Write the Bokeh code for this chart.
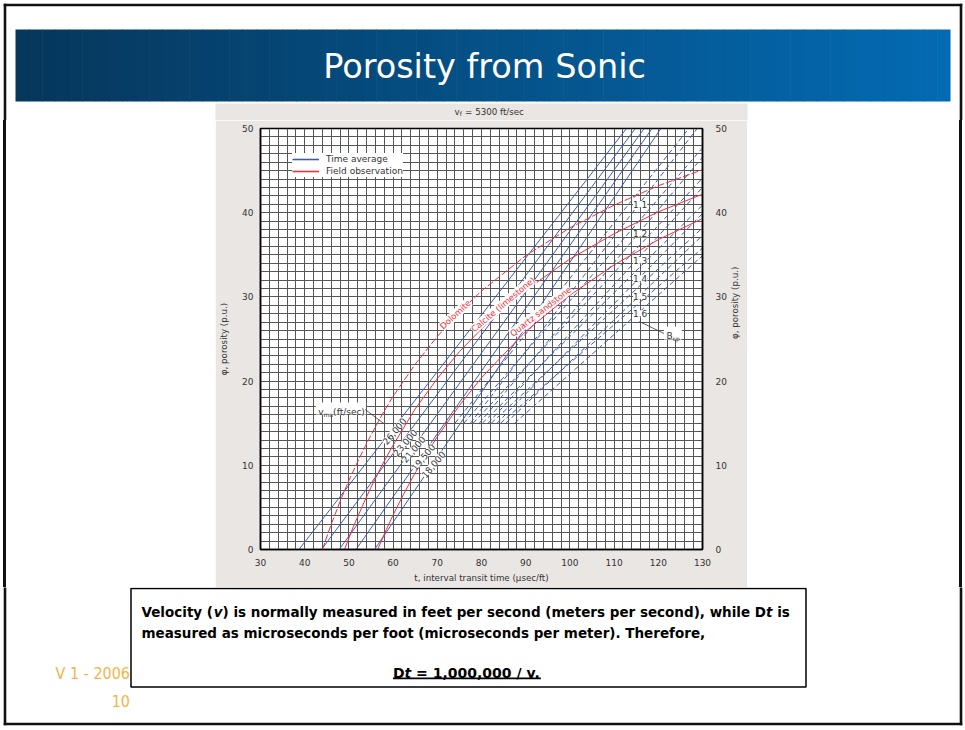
import math
from bokeh.plotting import figure
from bokeh.layouts import column, row
from bokeh.models import (Range1d, LinearAxis, FixedTicker, Label, BoxAnnotation,
                          Arrow, Legend, LegendItem, ColumnDataSource, Spacer)
from bokeh.embed import file_html
from bokeh.resources import INLINE

# ---------------- values ----------------
x_tick_values = [30, 40, 50, 60, 70, 80, 90, 100, 110, 120, 130]
y_tick_values = [0, 10, 20, 30, 40, 50]

# time-average lines (solid blue): transit time at phi = 0 and at phi = 50
vma_labels = ["26,000", "23,000", "21,000", "19,500", "18,000"]
ta_dt_phi0 = [38.7, 43.8, 47.8, 51.6, 55.8]
ta_dt_phi50 = [112.8, 114.8, 116.8, 118.6, 120.6]

# compaction-corrected lines (dashed blue), Bcp = 1.1 ... 1.6
bcp_labels = ["1.1", "1.2", "1.3", "1.4", "1.5", "1.6"]
bcp_phi_start = [15, 15, 15, 15, 15, 15]
bcp18_dt_start = [77.5, 79.5, 81.5, 83.5, 85.5, 87.5]
bcp18_dt_end = [128.8, 130, 130, 130, 130, 130]
bcp18_phi_end = [50, 46.6, 43.0, 39.9, 37.3, 34.9]
bcp195_dt_start = [74.0, 76.0, 78.1, 80.2, 82.2, 84.3]
bcp195_dt_end = [126.9, 130, 130, 130, 130, 130]
bcp195_phi_end = [50, 47.7, 44.1, 40.9, 38.2, 35.8]

# field observation curves (red)
dolomite_dt = [44, 46, 48, 50, 52.5, 55, 57.5, 60, 65, 70, 75, 80, 90, 100, 110, 120, 130]
dolomite_phi = [0, 3.0, 5.7, 8.2, 11.0, 13.6, 16.0, 18.2, 22.0, 25.3, 28.2, 30.7, 34.9, 38.2, 40.9, 43.2, 45.1]
calcite_dt = [49, 51, 53, 55, 57.5, 60, 65, 70, 75, 80, 90, 100, 110, 120, 130]
calcite_phi = [0, 2.7, 5.1, 7.4, 10.0, 12.4, 16.7, 20.3, 23.5, 26.2, 30.8, 34.5, 37.5, 40.1, 42.2]
sandstone_dt = [56.5, 58.5, 60, 62.5, 65, 67.5, 70, 75, 80, 90, 100, 110, 120, 130]
sandstone_phi = [0, 2.4, 4.1, 6.7, 9.1, 11.3, 13.4, 17.1, 20.4, 25.9, 30.2, 33.8, 36.8, 39.3]

# ---------------- layout / style constants ----------------
PAGE_W, PAGE_H = 965, 730
FONT = "DejaVu Sans"
GRAY_BG = "#e9e6e3"
BLUE = "#3a5cb2"
RED = "#ef2f3c"
TXT = "#333333"
ORANGE = "#f5b347"
FRAME_C = "#111111"

vma_label_xy = [(60.3, 14.05), (62.7, 12.7), (64.6, 11.9), (66.8, 10.96), (69.1, 10.1)]
bcp_label_x = 115.9
bcp_label_y = [40.97, 37.49, 34.32, 32.15, 30.08, 27.99]


def X(px):  # page pixel -> chart data x
    return 30 + (px - 260) / 4.48


def Y(py):  # page pixel -> chart data y
    return (549 - py) / 8.42


def deco(x0, y0, w, h):
    """A plain panel whose data coordinates are page pixels (y downward)."""
    f = figure(width=w, height=h, x_range=Range1d(x0, x0 + w), y_range=Range1d(y0 + h, y0),
               x_axis_type=None, y_axis_type=None, min_border=0, toolbar_location=None,
               output_backend="svg", outline_line_color=None,
               background_fill_color="white", border_fill_color="white")
    f.add_layout(BoxAnnotation(left=215, right=747, top=103, bottom=587, fill_color=GRAY_BG,
                               fill_alpha=1, line_color=None, level="underlay"))
    for l, r, t, b in [(3.2, 961.8, 3.2, 5.8), (3.2, 961.8, 722.2, 724.8),
                       (3.2, 5.8, 3.2, 724.8), (959.2, 961.8, 3.2, 724.8)]:
        f.add_layout(BoxAnnotation(left=l, right=r, top=t, bottom=b, fill_color=FRAME_C,
                                   fill_alpha=1, line_color=None, level="overlay"))
    return f


def side(width, bar_from, bar_to):
    grad = (f"linear-gradient(to right, #ffffff 0px, #ffffff {bar_from}px, {FRAME_C} {bar_from}px, "
            f"{FRAME_C} {bar_to}px, #ffffff {bar_to}px, #ffffff 100%)")
    return Spacer(width=width, height=467, margin=0, styles={"background": grad})


# ---------------- top panel: banner ----------------
top = deco(0, 0, PAGE_W, 120)
n = 70
c1, c2 = (6, 55, 92), (4, 106, 178)
bl, br = 15, 950
step = (br - bl) / n
lefts = [bl + i * step for i in range(n)]
rights = [min(br, bl + (i + 1) * step + 0.6) for i in range(n)]
cols = ["#%02x%02x%02x" % tuple(int(round(a + (b - a) * i / (n - 1))) for a, b in zip(c1, c2))
        for i in range(n)]
top.quad(left=lefts, right=rights, top=[29] * n, bottom=[101] * n, fill_color=cols, line_color=None)
top.add_layout(Label(x=484, y=66, text="Porosity from Sonic", text_font=FONT,
                     text_font_size="33.5px", text_color="white", text_align="center",
                     text_baseline="middle"))
# v_f = 5300 ft/sec
top.add_layout(Label(x=454, y=111, text="v", text_font=FONT, text_font_size="8.7px",
                     text_color=TXT, text_baseline="alphabetic"))
top.add_layout(Label(x=459.2, y=113, text="f", text_font=FONT, text_font_size="6px",
                     text_color=TXT, text_baseline="alphabetic"))
top.add_layout(Label(x=464.6, y=111, text="= 5300 ft/sec", text_font=FONT,
                     text_font_size="8.7px", text_color=TXT, text_baseline="alphabetic"))

# ---------------- side panels ----------------
left_panel = side(215, 3.2, 5.8)
right_panel = side(218, 959.2 - 747, 961.8 - 747)

# ---------------- chart ----------------
p = figure(width=532, height=467, x_range=Range1d(30, 130), y_range=Range1d(0, 50),
           output_backend="svg", toolbar_location=None,
           min_border_left=45, min_border_right=39, min_border_top=8, min_border_bottom=38,
           border_fill_color=GRAY_BG, background_fill_color="white",
           outline_line_color="black", outline_line_width=1.5)

p.xgrid.ticker = FixedTicker(ticks=list(range(30, 131, 2)))
p.ygrid.ticker = FixedTicker(ticks=list(range(0, 51, 1)))
for g in (p.xgrid[0], p.ygrid[0]):
    g.grid_line_color = "#555555"
    g.grid_line_width = 1
    g.grid_line_alpha = 1

p.xaxis.ticker = FixedTicker(ticks=x_tick_values)
p.yaxis.ticker = FixedTicker(ticks=y_tick_values)
yr = LinearAxis(ticker=FixedTicker(ticks=y_tick_values))
p.add_layout(yr, "right")
p.xaxis.axis_label = "t, interval transit time (\u00b5sec/ft)"
p.yaxis.axis_label = "\u03c6, porosity (p.u.)"
yr.axis_label = "\u03c6, porosity (p.u.)"
yr.axis_label_orientation = math.pi / 2
for ax in (p.xaxis[0], p.yaxis[0], yr):
    ax.major_tick_line_color = None
    ax.minor_tick_line_color = None
    ax.axis_line_color = "black"
    ax.axis_line_width = 1.5
    ax.major_label_text_font = FONT
    ax.major_label_text_font_size = "9px"
    ax.major_label_text_color = TXT
    ax.axis_label_text_font = FONT
    ax.axis_label_text_font_size = "8.7px"
    ax.axis_label_text_font_style = "normal"
    ax.axis_label_text_color = TXT
p.xaxis.major_label_standoff = 3
p.yaxis.major_label_standoff = 1
yr.major_label_standoff = 7
p.xaxis.axis_label_standoff = 4
p.yaxis.axis_label_standoff = 10
yr.axis_label_standoff = 5

ta_src = ColumnDataSource(dict(xs=[[a, b] for a, b in zip(ta_dt_phi0, ta_dt_phi50)],
                               ys=[[0, 50] for _ in ta_dt_phi0]))
r_ta = p.multi_line("xs", "ys", source=ta_src, line_color=BLUE, line_width=1)

bcp_xs = [[a, b] for a, b in zip(bcp18_dt_start, bcp18_dt_end)] + \
         [[a, b] for a, b in zip(bcp195_dt_start, bcp195_dt_end)]
bcp_ys = [[a, b] for a, b in zip(bcp_phi_start, bcp18_phi_end)] + \
         [[a, b] for a, b in zip(bcp_phi_start, bcp195_phi_end)]
p.multi_line(bcp_xs, bcp_ys, line_color=BLUE, line_width=1, line_dash="5 3")

r_dol = p.line(dolomite_dt, dolomite_phi, line_color=RED, line_width=1, line_dash="7 2")
r_cal = p.line(calcite_dt, calcite_phi, line_color=RED, line_width=1)
r_san = p.line(sandstone_dt, sandstone_phi, line_color=RED, line_width=1)

# legend key renderers: same data, hidden, drawn a little heavier in the key
key_ta = p.multi_line("xs", "ys", source=ta_src, line_color=BLUE, line_width=1.6, visible=False)
key_fo = p.line(calcite_dt, calcite_phi, line_color=RED, line_width=1.6, visible=False)
legend = Legend(items=[LegendItem(label="Time average", renderers=[key_ta], index=0),
                       LegendItem(label="Field observation", renderers=[key_fo])],
                location=(32, 372), padding=2, spacing=0, margin=0,
                glyph_width=27, glyph_height=12, label_height=12, label_standoff=7,
                label_text_font=FONT, label_text_font_size="9px", label_text_color=TXT,
                border_line_color=None, background_fill_color="white", background_fill_alpha=1,
                inactive_fill_alpha=0, click_policy="none")
p.add_layout(legend)

for txt, (lx, ly) in zip(vma_labels, vma_label_xy):
    p.add_layout(Label(x=lx, y=ly, text=txt, angle=50, angle_units="deg", text_align="center",
                       text_baseline="middle", text_font=FONT, text_font_size="9px",
                       text_color=TXT, background_fill_color="white"))

p.add_layout(BoxAnnotation(left=X(316), right=X(367), top=Y(402), bottom=Y(414),
                           fill_color="white", fill_alpha=1, line_color=None))
p.add_layout(Label(x=X(318.5), y=Y(411.5), text="v", text_font=FONT, text_font_size="9px",
                   text_color=TXT, text_baseline="alphabetic"))
p.add_layout(Label(x=X(323.8), y=Y(413.5), text="ma", text_font=FONT, text_font_size="6px",
                   text_color=TXT, text_baseline="alphabetic"))
p.add_layout(Label(x=X(333.6), y=Y(411.5), text="(ft/sec)", text_font=FONT, text_font_size="9px",
                   text_color=TXT, text_baseline="alphabetic"))
p.add_layout(Arrow(x_start=X(366), y_start=Y(409), x_end=X(385), y_end=Y(423), end=None,
                   line_color=TXT, line_width=0.8))

for txt, ly in zip(bcp_labels, bcp_label_y):
    p.add_layout(Label(x=bcp_label_x, y=ly, text=txt, text_align="center", text_baseline="middle",
                       text_font=FONT, text_font_size="9px", text_color=TXT,
                       background_fill_color="white"))

p.add_layout(BoxAnnotation(left=X(669), right=X(687), top=Y(326), bottom=Y(339),
                           fill_color="white", fill_alpha=1, line_color=None))
p.add_layout(Label(x=X(671.5), y=Y(335.5), text="B", text_font=FONT, text_font_size="9px",
                   text_color=TXT, text_baseline="alphabetic"))
p.add_layout(Label(x=X(677.8), y=Y(337.5), text="cp", text_font=FONT, text_font_size="6px",
                   text_color=TXT, text_baseline="alphabetic"))
p.add_layout(Arrow(x_start=X(644), y_start=Y(321), x_end=X(669), y_end=Y(333), end=None,
                   line_color=TXT, line_width=0.8))

for txt, lx, ly, ang in [("Dolomite", X(457.5), Y(314), 43),
                         ("Calcite (limestone)", X(505.8), Y(304), 40),
                         ("Quartz sandstone", X(544), Y(311), 38)]:
    p.add_layout(Label(x=lx, y=ly, text=txt, angle=ang, angle_units="deg", text_align="center",
                       text_baseline="middle", text_font=FONT, text_font_size="8.5px",
                       text_color=RED, background_fill_color="white"))

# ---------------- bottom panel: text box ----------------
bot = deco(0, 587, PAGE_W, 143)
bot.add_layout(BoxAnnotation(left=130.5, right=805.5, top=588, bottom=686.5, fill_color="white",
                             fill_alpha=1, line_color="black", line_alpha=1, line_width=1.5))

BW = {" ": 348, "(": 457, ")": 457, ",": 380, ".": 380, "/": 365, "=": 838,
      "a": 675, "b": 716, "c": 593, "d": 716, "e": 678, "f": 435, "g": 716, "h": 712,
      "i": 343, "l": 343, "m": 1042, "n": 712, "o": 687, "p": 716, "r": 493, "s": 595,
      "t": 478, "u": 712, "v": 652, "w": 924, "y": 652, "D": 830, "T": 682, "V": 774}


def tw(s, size):
    return sum(BW.get(ch, 696) for ch in s) * size / 1000.0


def runs(parts, x0, y0, size):
    x = x0
    for s, style in parts:
        body = s.lstrip(" ")
        lead = tw(s[:len(s) - len(body)], size)
        bot.add_layout(Label(x=x + lead, y=y0, text=body, text_font=FONT, text_font_size=f"{size}px",
                             text_font_style=style, text_color="black", text_baseline="alphabetic"))
        x += tw(s, size)
    return x


runs([("Velocity (", "bold"), ("v", "bold italic"),
      (") is normally measured in feet per second (meters per second), while D", "bold"),
      ("t", "bold italic"), (" is", "bold")], 141, 611, 13.5)
runs([("measured as microseconds per foot (microseconds per meter). Therefore,", "bold")],
     141, 632, 13.5)
f_parts = [("D", "bold"), ("t", "bold italic"), (" = 1,000,000 / v.", "bold")]
f_w = sum(tw(s, 14) for s, _ in f_parts)
fx0 = 466.4 - f_w / 2
runs(f_parts, fx0, 672, 14)
bot.add_layout(BoxAnnotation(left=fx0, right=fx0 + f_w, top=677, bottom=678.8, fill_color="black",
                             fill_alpha=1, line_color=None))

OFONT = "DejaVu Sans Condensed, Liberation Sans, sans-serif"
bot.add_layout(Label(x=129.5, y=673, text="V 1 - 2006", text_font=OFONT,
                     text_font_size="16px", text_color=ORANGE, text_align="right",
                     text_baseline="alphabetic"))
bot.add_layout(Label(x=129.5, y=700, text="10", text_font=OFONT,
                     text_font_size="16px", text_color=ORANGE, text_align="right",
                     text_baseline="alphabetic"))

layout = column(top, row(left_panel, p, right_panel, spacing=0), bot, spacing=0)

open("out.html", "w").write(file_html(layout, INLINE))
